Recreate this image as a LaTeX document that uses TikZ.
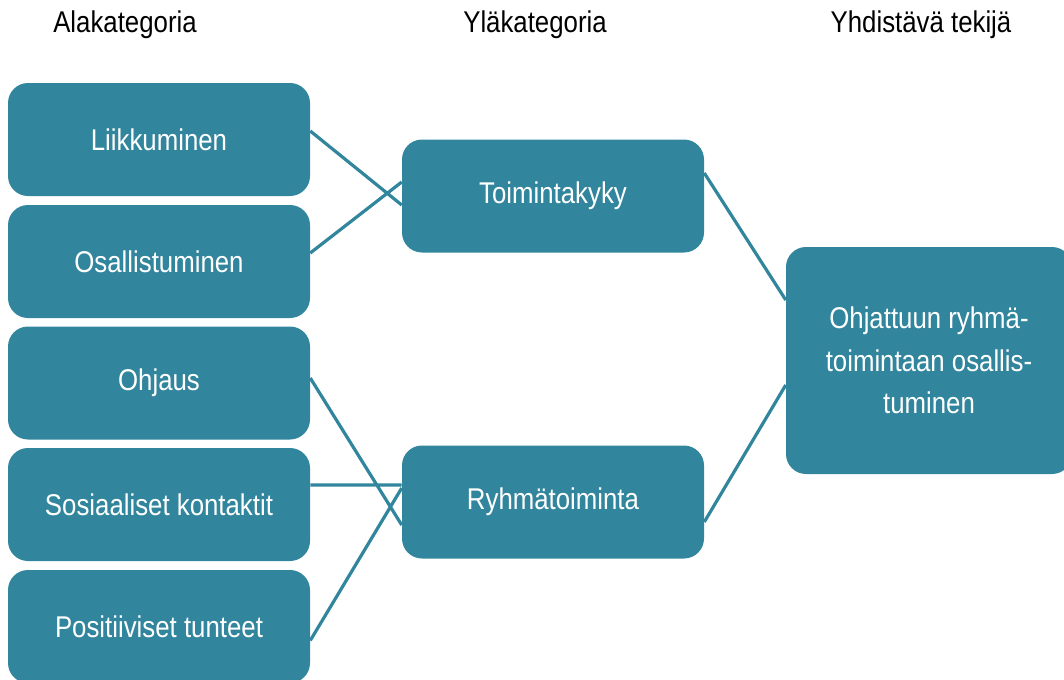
\documentclass[tikz,border=0pt]{standalone}
\usepackage{fontspec}
\setmainfont{Liberation Sans}[FakeStretch=0.86]
\usepackage{tikz}
\usetikzlibrary{calc}
\definecolor{kattealia}{HTML}{31859C}

\begin{document}
\begin{tikzpicture}[x=0.75pt,y=-0.75pt,
                        kat/.style={fill=kattealia, rounded corners=15pt, text=white, inner sep=0pt,
                            minimum width=226.5pt, minimum height=84.75pt, font=\fontsize{22.5}{32}\selectfont},
                        otsikko/.style={font=\fontsize{22.5}{27}\selectfont},
                        yhteys/.style={draw=kattealia, line width=2.4pt}]
                        \useasboundingbox (0,0) rectangle (1064,679);

                        \node[otsikko] (h1) at (125,25) {Alakategoria};
                        \node[otsikko] (h2) at (535,25) {Yläkategoria};
                        \node[otsikko] (h3) at (921,25) {Yhdistävä tekijä};

                        \node[kat] (l1) at (159,139.5) {Liikkuminen};
                        \node[kat] (l2) at (159,261.5) {Osallistuminen};
                        \node[kat] (l3) at (159,383) {Ohjaus};
                        \node[kat] (l4) at (159,504.5) {Sosiaaliset kontaktit};
                        \node[kat] (l5) at (159,626.5) {Positiiviset tunteet};

                        \node[kat] (t) at (553,196) {Toimintakyky};
                        \node[kat] (r) at (553,502) {Ryhmätoiminta};

                        \node[kat, minimum width=214.5pt, minimum height=170.25pt, align=center] (y) at (929,360.5)
                            {Ohjattuun ryhmä-\\toimintaan osallis-\\tuminen};

                        \path	[yhteys]	($(l1.east)+(0,-8.5)$)	--	($(t.west)+(0,9)$)
                        ($(l2.east)+(0,-8.5)$)	--	($(t.west)+(0,-14)$)
                        ($(l3.east)+(0,-5)$)	--	($(r.west)+(0,23)$)
                        ($(l4.east)+(0,-19.5)$)	--	($(r.west)+(0,-17)$)
                        ($(l5.east)+(0,14)$)	--	($(r.west)+(0,-14)$)
                        ($(t.east)+(0,-23)$)	--	($(y.west)+(0,-60.5)$)
                        ($(r.east)+(0,20)$)	--	($(y.west)+(0,24.5)$);
                    \end{tikzpicture}
\end{document}
